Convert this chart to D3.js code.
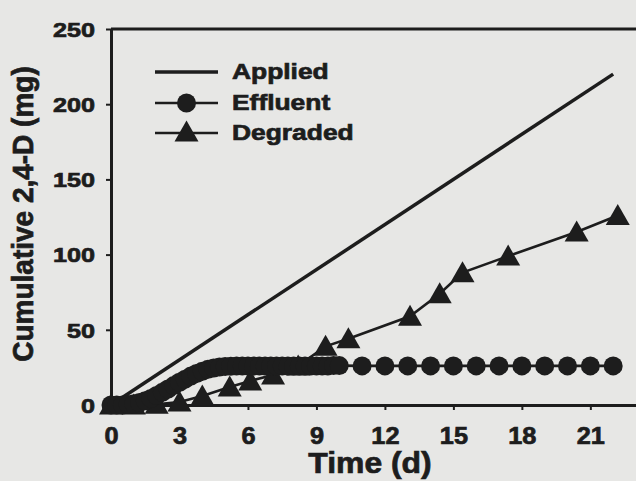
<!DOCTYPE html>
<html>
<head>
<meta charset="utf-8">
<script src="https://cdn.jsdelivr.net/npm/d3@7"></script>
<style>
  html, body { margin: 0; padding: 0; background: #e7e7e5; }
  svg { display: block; }
</style>
</head>
<body>
<script>
// Axis ticks
const xTicks = [0, 3, 6, 9, 12, 15, 18, 21];
const yTicks = [0, 50, 100, 150, 200, 250];

// Cumulative 2,4-D applied (mg) over time (d)
const appliedTime = [0, 22];
const appliedMass = [0, 220];

// Cumulative 2,4-D in effluent (mg)
const effluentTime = [0, 0.25, 0.5, 0.75, 1, 1.25, 1.5, 1.75, 2, 2.25,
  2.5, 2.75, 3, 3.25, 3.5, 3.75, 4, 4.25, 4.5, 4.75,
  5, 5.25, 5.5, 5.75, 6, 6.25, 6.5, 6.75, 7, 7.25,
  7.5, 7.75, 8, 8.25, 8.5, 8.75, 9, 9.25, 9.5, 9.75,
  10, 11, 12, 13, 14, 15, 16, 17, 18, 19, 20, 21, 22];
const effluentMass = [0, 0, 0, 0.3, 0.8, 1.6, 2.8, 4.4, 6.3, 8.4,
  10.6, 12.9, 15.1, 17.2, 19.2, 21.0, 22.5, 23.7, 24.6, 25.2,
  25.6, 25.8, 26, 26, 26, 26, 26, 26, 26, 26,
  26, 26, 26, 26, 26, 26, 26, 26, 26, 26.2,
  26.2, 26, 26, 26, 26, 26, 26, 26, 26, 26, 26, 26, 26];

// Cumulative 2,4-D degraded (mg)
const degradedTime = [0, 1, 2, 3.0, 4.0, 5.2, 6.1, 7.1, 8.2, 9.4, 10.4, 13.1, 14.4, 15.4, 17.4, 20.4, 22.2];
const degradedMass = [0, 0, 0.5, 2, 6, 12, 16, 20, 26, 39, 44, 59, 74, 88, 99, 115, 126];

const seriesNames = ["Applied", "Effluent", "Degraded"];

const W = 636, H = 481;
const BG = "#e7e7e5";
const INK = "#1d1d1d";
const FONT = "'Liberation Sans', Arial, Helvetica, sans-serif";
const SX = 1.2; // wide lettering
const TEXT_STROKE = 0.7;

const x = d3.scaleLinear().domain([0, 23]).range([111, 636]);
const y = d3.scaleLinear().domain([0, 250]).range([405, 29]);

const svg = d3.select("body").append("svg")
  .attr("width", W).attr("height", H);

svg.append("rect").attr("width", W).attr("height", H).attr("fill", BG);

const zip = (xs, ys) => xs.map((t, i) => [t, ys[i]]);
const applied = zip(appliedTime, appliedMass);
const effluent = zip(effluentTime, effluentMass);
const degraded = zip(degradedTime, degradedMass);

const line = d3.line().x(d => x(d[0])).y(d => y(d[1]));

const triPath = "M0,-11.5L12,9.5L-12,9.5Z";

function heavy(sel, size) {
  return sel.attr("fill", INK).attr("stroke", INK).attr("stroke-width", TEXT_STROKE)
    .attr("font-family", FONT).attr("font-weight", "bold").attr("font-size", size);
}

// Top frame line
svg.append("line")
  .attr("x1", x(0)).attr("x2", W)
  .attr("y1", y(250)).attr("y2", y(250))
  .attr("stroke", INK).attr("stroke-width", 3);

// Y axis
const yAxis = svg.append("g")
  .attr("transform", `translate(${x(0)},0)`)
  .call(d3.axisLeft(y).tickValues(yTicks).tickSize(5).tickSizeOuter(0));
yAxis.select(".domain").attr("stroke", INK).attr("stroke-width", 3);
yAxis.selectAll(".tick line").attr("stroke", INK).attr("stroke-width", 2);
heavy(yAxis.selectAll(".tick text")
  .attr("x", -16 / SX).attr("dy", "0.35em")
  .attr("transform", `scale(${SX},1)`), 21);

// X axis
const xAxis = svg.append("g")
  .attr("transform", `translate(0,${y(0)})`)
  .call(d3.axisBottom(x).tickValues(xTicks).tickSize(5).tickSizeOuter(0));
xAxis.select(".domain").attr("stroke", INK).attr("stroke-width", 3);
xAxis.selectAll(".tick line").attr("stroke", INK).attr("stroke-width", 2);
heavy(xAxis.selectAll(".tick text")
  .attr("y", 39).attr("dy", 0)
  .attr("transform", "scale(1.1,1)"), 23);

// Axis titles
heavy(svg.append("text")
  .attr("transform", "translate(370,473) scale(1.1,1)")
  .attr("text-anchor", "middle")
  .text("Time (d)"), 29);

heavy(svg.append("text")
  .attr("transform", "translate(33,214) scale(1.05,1) rotate(-90)")
  .attr("text-anchor", "middle")
  .text("Cumulative 2,4-D (mg)"), 28);

// Applied
svg.append("path").datum(applied)
  .attr("d", line).attr("fill", "none")
  .attr("stroke", INK).attr("stroke-width", 3.5);

// Degraded
svg.append("path").datum(degraded)
  .attr("d", line).attr("fill", "none")
  .attr("stroke", INK).attr("stroke-width", 2.6);
svg.append("g").selectAll("path").data(degraded).join("path")
  .attr("d", triPath)
  .attr("transform", d => `translate(${x(d[0])},${y(d[1])})`)
  .attr("fill", INK);

// Effluent
svg.append("path").datum(effluent)
  .attr("d", line).attr("fill", "none")
  .attr("stroke", INK).attr("stroke-width", 2.6);
svg.append("g").selectAll("circle").data(effluent).join("circle")
  .attr("cx", d => x(d[0])).attr("cy", d => y(d[1]))
  .attr("r", 9.5).attr("fill", INK);

// Legend
const legend = svg.append("g");
const legendY = [72, 103, 133];
seriesNames.forEach((name, i) => {
  const ly = legendY[i];
  legend.append("line")
    .attr("x1", 155).attr("x2", 218).attr("y1", ly).attr("y2", ly)
    .attr("stroke", INK).attr("stroke-width", i === 0 ? 3.5 : 2.6);
  if (i === 1) {
    legend.append("circle").attr("cx", 186.5).attr("cy", ly).attr("r", 9.5).attr("fill", INK);
  } else if (i === 2) {
    legend.append("path").attr("d", triPath)
      .attr("transform", `translate(186.5,${ly - 1})`).attr("fill", INK);
  }
  heavy(legend.append("text")
    .attr("transform", `translate(232,${ly + 7}) scale(${SX},1)`)
    .text(name), 22);
});
</script>
</body>
</html>
